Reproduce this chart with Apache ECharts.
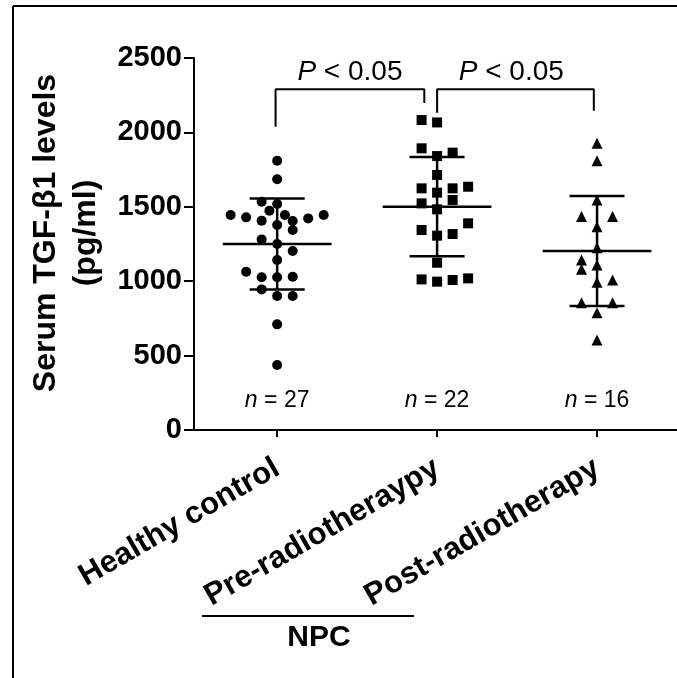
<!DOCTYPE html>
<html>
<head>
<meta charset="utf-8">
<script src="https://cdn.jsdelivr.net/npm/echarts@6/dist/echarts.min.js"></script>
<style>
  html, body { margin: 0; padding: 0; background: #fff; }
  #main { width: 677px; height: 678px; }
</style>
</head>
<body>
<div id="main"></div>
<script type="text/javascript">

	// groups on the x axis
	var categories = ['Healthy control', 'Pre-radiotheraypy', 'Post-radiotherapy'];
	var counts = [27, 22, 16];

	// serum TGF-b1 (pg/ml), column offset of each dot
	var healthyValues  = [1810, 1685, 1534, 1519, 1474, 1445, 1429, 1445, 1422, 1445, 1407, 1405, 1378, 1344, 1281, 1250, 1203, 1142, 1064, 1026, 1026, 1030, 945, 900, 900, 710, 437];
	var healthyOffsets = [0, 0, -1, 0, -0.5, -3, -2, 0.5, 2, 3, -1, 1, 0, 1, -1, 0, 1, 0, -2, -1, 0, 1, -1, 0, 1, 0, 0];

	var preValues  = [2083, 2067, 1893, 1841, 1864, 1714, 1624, 1595, 1624, 1635, 1523, 1546, 1483, 1344, 1306, 1317, 1389, 1124, 1012, 997, 1008, 1019];
	var preOffsets = [-1, 0, -1, 0, 1, 0, -1, 0, 1, 2, -1, 1, 0, -1, 0, 1, 2, 0, -1, 0, 1, 2];

	var postValues  = [1927, 1810, 1546, 1434, 1434, 1366, 1225, 1142, 1080, 1109, 993, 1008, 855, 855, 788, 605];
	var postOffsets = [0, 0, 0, -1, 1, 0, 0, -1, -1, 0, 0, 1, -1, 1, 0, 0];

	// mean and SD per group
	var means = [1250, 1501, 1203];
	var sds = [306, 334, 369];

	// significance brackets [x, y] in data units
	var bracket1 = [[-0.01, 2038], [-0.01, 2290], [0.92, 2290], [0.92, 2198]];
	var bracket2 = [[1.0, 2132], [1.0, 2290], [1.98, 2290], [1.98, 2146]];
	var pLabels = [[0.455, 2406], [1.464, 2406]];

	var yTicks = { min: 0, max: 2500, interval: 500 };
	var colStep = 0.097;

	function buildPoints(group, values, offsets) {
		var out = [];
		for (var i = 0; i < values.length; i++) {
			out.push([group + offsets[i] * colStep, values[i]]);
		}
		return out;
	}

	var font = 'Liberation Sans, Arial, sans-serif';
	var dot = { color: '#000', opacity: 1 };

	var chart = echarts.init(document.getElementById('main'));
	chart.setOption({
		animation: false,
		grid: { left: 194, right: 0, top: 58, bottom: 248, containLabel: false, outerBoundsMode: 'none' },
		xAxis: {
			type: 'value',
			min: -0.52,
			max: 2.5,
			splitLine: { show: false },
			axisLine: { lineStyle: { color: '#000', width: 2 } },
			axisTick: { show: true, customValues: [0, 1, 2], length: 7, lineStyle: { color: '#000', width: 2 } },
			axisLabel: {
				customValues: [0, 1, 2],
				formatter: function (v) { return categories[Math.round(v)]; },
				rotate: 30,
				margin: 36,
				color: '#000',
				fontFamily: font,
				fontWeight: 'bold',
				fontSize: 31
			}
		},
		yAxis: {
			type: 'value',
			min: yTicks.min,
			max: yTicks.max,
			interval: yTicks.interval,
			name: 'Serum TGF-\u03b21 levels\n(pg/ml)',
			nameLocation: 'middle',
			nameRotate: 90,
			nameGap: 84,
			nameTextStyle: { color: '#000', fontFamily: font, fontWeight: 'bold', fontSize: 32, lineHeight: 40, padding: [0, 0, 0, 22] },
			splitLine: { show: false },
			axisLine: { show: true, onZero: false, lineStyle: { color: '#000', width: 2 } },
			axisTick: { show: true, length: 10, lineStyle: { color: '#000', width: 2 } },
			axisLabel: {
				formatter: function (v) { return String(v); },
				color: '#000', fontFamily: font, fontWeight: 'bold', fontSize: 29, margin: 12
			}
		},
		series: [
			{
				type: 'custom',
				data: means.map(function (m, i) { return [i, m, sds[i]]; }),
				renderItem: function (params, api) {
					var x = api.value(0), m = api.value(1), sd = api.value(2);
					var c = api.coord([x, m]);
					var lo = api.coord([x, m - sd]);
					var hi = api.coord([x, m + sd]);
					var half = api.size([0.34, 0])[0];
					var cap = api.size([0.172, 0])[0];
					var st = { stroke: '#000', lineWidth: 2.5 };
					return {
						type: 'group',
						children: [
							{ type: 'line', shape: { x1: c[0] - half, y1: c[1], x2: c[0] + half, y2: c[1] }, style: st },
							{ type: 'line', shape: { x1: c[0], y1: lo[1], x2: c[0], y2: hi[1] }, style: st },
							{ type: 'line', shape: { x1: c[0] - cap, y1: lo[1], x2: c[0] + cap, y2: lo[1] }, style: st },
							{ type: 'line', shape: { x1: c[0] - cap, y1: hi[1], x2: c[0] + cap, y2: hi[1] }, style: st }
						]
					};
				},
				z: 2
			},
			{
				type: 'scatter', symbol: 'circle', symbolSize: 10, itemStyle: dot,
				data: buildPoints(0, healthyValues, healthyOffsets), z: 3
			},
			{
				type: 'scatter', symbol: 'rect', symbolSize: 10, itemStyle: dot,
				data: buildPoints(1, preValues, preOffsets), z: 3
			},
			{
				type: 'scatter', symbol: 'triangle', symbolSize: 11, itemStyle: dot,
				data: buildPoints(2, postValues, postOffsets), z: 3
			},
			{
				type: 'line', data: bracket1, symbol: 'none',
				lineStyle: { color: '#000', width: 2 }, z: 2
			},
			{
				type: 'line', data: bracket2, symbol: 'none',
				lineStyle: { color: '#000', width: 2 }, z: 2
			},
			{
				// P value text
				type: 'scatter', symbolSize: 0, itemStyle: dot,
				data: pLabels,
				label: {
					show: true, position: 'inside',
					formatter: '{i|P} < 0.05',
					color: '#000', opacity: 1, fontFamily: font, fontSize: 28,
					rich: { i: { fontStyle: 'italic', fontFamily: font, fontSize: 28, color: '#000' } }
				}
			},
			{
				// n = ... text
				type: 'scatter', symbolSize: 0, itemStyle: dot,
				data: counts.map(function (n, i) { return [i, 200, n]; }),
				label: {
					show: true, position: 'inside',
					formatter: function (p) { return '{i|n} = ' + p.value[2]; },
					color: '#000', opacity: 1, fontFamily: font, fontSize: 23,
					rich: { i: { fontStyle: 'italic', fontFamily: font, fontSize: 23, color: '#000' } }
				}
			}
		],
		graphic: [
			{ type: 'line', shape: { x1: 13, y1: 6, x2: 13, y2: 678 }, style: { stroke: '#000', lineWidth: 2 } },
			{ type: 'line', shape: { x1: 13, y1: 6, x2: 677, y2: 6 }, style: { stroke: '#000', lineWidth: 2 } },
			{ type: 'line', shape: { x1: 202, y1: 616, x2: 414, y2: 616 }, style: { stroke: '#000', lineWidth: 2 } },
			{
				type: 'text', x: 319, y: 638,
				style: { text: 'NPC', fill: '#000', font: 'bold 30px Liberation Sans, Arial, sans-serif', textAlign: 'center', textVerticalAlign: 'middle' }
			}
		]
	});

</script>
</body>
</html>
